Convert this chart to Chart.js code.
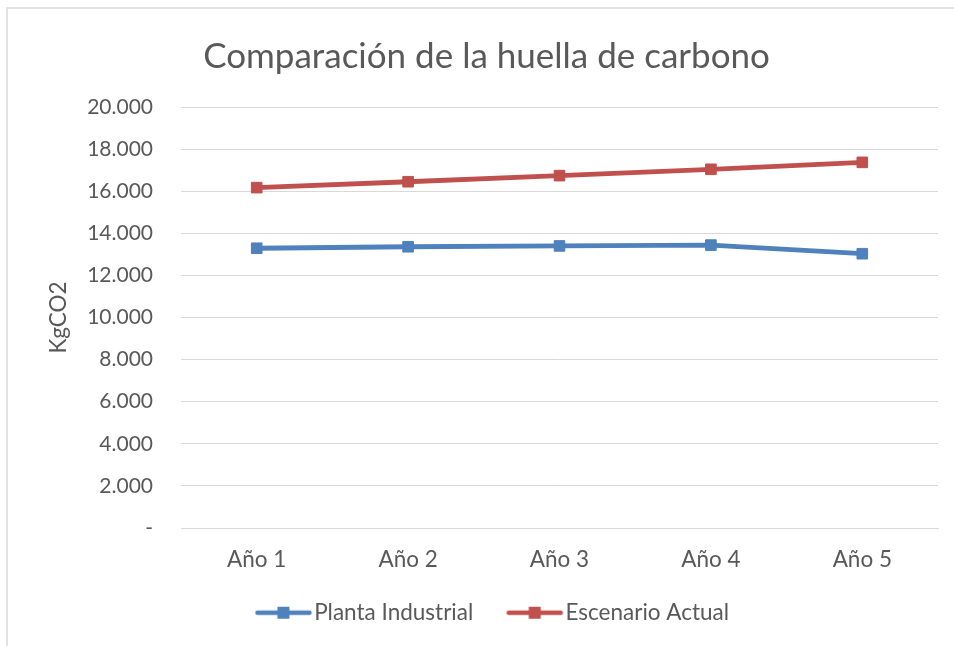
<!DOCTYPE html>
<html lang="es">
<head>
<meta charset="utf-8">
<title>Comparación de la huella de carbono</title>
<script src="https://cdn.jsdelivr.net/npm/chart.js@4/dist/chart.umd.min.js"></script>
<style>
  html, body { margin: 0; padding: 0; background: #fff; }
  #wrap { width: 954px; height: 646px; position: relative; }
</style>
</head>
<body>
<div id="wrap"><canvas id="chart"></canvas></div>
<script>
const categories = ['Año 1', 'Año 2', 'Año 3', 'Año 4', 'Año 5'];
const plantaIndustrial = [13290, 13360, 13400, 13440, 13030];
const escenarioActual = [16170, 16450, 16740, 17040, 17370];
const seriesNames = ['Planta Industrial', 'Escenario Actual'];
const seriesColors = ['#4F81BD', '#C0504D'];

const FONT = 'Lato, "Open Sans", sans-serif';
const TEXT = '#595959';
const GRID = '#D9D9D9';

// 1.234 style thousands, dash for zero
function fmt(v) {
    if (v === 0) return '-';
    return String(v).replace(/\B(?=(\d{3})+(?!\d))/g, '.');
}

// legend swatch: line with a square marker, pushed to the right end of the box
function legendSwatch(color) {
    const c = document.createElement('canvas');
    c.width = 81;
    c.height = 16;
    const g = c.getContext('2d');
    g.strokeStyle = color;
    g.lineWidth = 4.5;
    g.lineCap = 'round';
    g.beginPath();
    g.moveTo(24.5, 8);
    g.lineTo(76.5, 8);
    g.stroke();
    g.fillStyle = color;
    g.fillRect(44.5, 2, 12, 12);
    return c;
}

const framePlugin = {
    id: 'frame',
    beforeDraw(chart) {
        const ctx = chart.ctx;
        ctx.save();
        ctx.fillStyle = '#fff';
        ctx.fillRect(0, 0, chart.width, chart.height);
        ctx.strokeStyle = GRID;
        ctx.lineWidth = 1.5;
        ctx.beginPath();
        ctx.moveTo(7, chart.height);
        ctx.lineTo(7, 8);
        ctx.lineTo(chart.width, 8);
        ctx.stroke();
        ctx.restore();
    }
};

const series = [plantaIndustrial, escenarioActual];

new Chart(document.getElementById('chart'), {
    type: 'line',
    data: {
        labels: categories,
        datasets: series.map((values, i) => ({
            label: seriesNames[i],
            data: values,
            borderColor: seriesColors[i],
            backgroundColor: seriesColors[i],
            borderWidth: 4.8,
            borderCapStyle: 'round',
            borderJoinStyle: 'round',
            pointStyle: 'rect',
            pointRadius: 7.5,
            pointBorderWidth: 1,
            pointBorderColor: seriesColors[i],
            pointBackgroundColor: seriesColors[i],
            tension: 0
        }))
    },
    options: {
        responsive: true,
        maintainAspectRatio: false,
        animation: false,
        layout: {
            padding: { left: 35, right: 16, top: 0, bottom: 12 }
        },
        plugins: {
            title: {
                display: true,
                text: 'Comparación de la huella de carbono',
                color: TEXT,
                font: { family: FONT, size: 35, weight: '400' },
                padding: { top: 36, bottom: 29 }
            },
            legend: {
                position: 'bottom',
                labels: {
                    color: TEXT,
                    font: { family: FONT, size: 22.5 },
                    usePointStyle: true,
                    pointStyleWidth: 59,
                    padding: 22,
                    generateLabels(chart) {
                        return chart.data.datasets.map((ds, i) => ({
                            text: ds.label,
                            fontColor: TEXT,
                            pointStyle: legendSwatch(ds.borderColor),
                            lineWidth: 0,
                            strokeStyle: 'transparent',
                            fillStyle: 'transparent',
                            datasetIndex: i,
                            hidden: false
                        }));
                    }
                }
            },
            tooltip: { enabled: false }
        },
        scales: {
            x: {
                offset: true,
                grid: { display: false, drawTicks: false },
                border: { display: true, color: GRID, width: 1 },
                ticks: {
                    color: TEXT,
                    font: { family: FONT, size: 22.5 },
                    padding: 18.5
                },
                afterFit(scale) {
                    scale.height = 51.5;
                }
            },
            y: {
                min: 0,
                max: 20000,
                grid: { color: GRID, lineWidth: 1, drawTicks: false },
                border: { display: false },
                ticks: {
                    stepSize: 2000,
                    color: TEXT,
                    font: { family: FONT, size: 21 },
                    padding: 28,
                    callback: (v) => fmt(v)
                },
                title: {
                    display: true,
                    text: 'KgCO2',
                    color: TEXT,
                    font: { family: FONT, size: 22.5 },
                    padding: { top: 10, bottom: 0 }
                },
                afterFit(scale) {
                    scale.width = 146;
                }
            }
        }
    },
    plugins: [framePlugin]
});
</script>
</body>
</html>
